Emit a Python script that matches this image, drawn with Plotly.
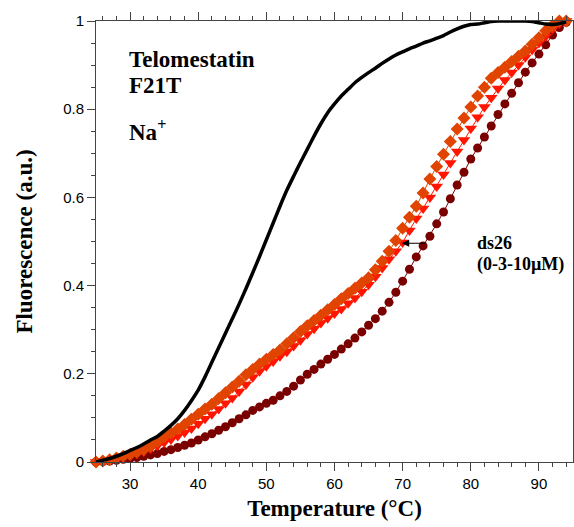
import plotly.graph_objects as go

temps = list(range(25, 95))

black_f21t = [0.0, 0.004, 0.008, 0.013, 0.019, 0.026, 0.033, 0.041, 0.05, 0.058,
              0.07, 0.083, 0.098, 0.117, 0.139, 0.163, 0.193, 0.226, 0.259, 0.292,
              0.325, 0.358, 0.393, 0.429, 0.466, 0.504, 0.542, 0.58, 0.616, 0.648,
              0.679, 0.709, 0.739, 0.767, 0.792, 0.812, 0.83, 0.845, 0.86, 0.872,
              0.883, 0.893, 0.904, 0.914, 0.923, 0.93, 0.937, 0.943, 0.95, 0.955,
              0.961, 0.967, 0.975, 0.982, 0.988, 0.992, 0.993, 0.996, 0.999, 1.0,
              1.0, 1.0, 1.0, 1.0, 0.999, 0.996, 0.993, 0.992, 0.994, 0.998]

ds26_10uM = [0.0, 0.001, 0.002, 0.004, 0.006, 0.008, 0.01, 0.013, 0.016, 0.019,
             0.024, 0.028, 0.033, 0.038, 0.043, 0.05, 0.057, 0.064, 0.072, 0.08,
             0.089, 0.098, 0.107, 0.117, 0.125, 0.133, 0.14, 0.15, 0.16, 0.172,
             0.186, 0.199, 0.21, 0.222, 0.233, 0.244, 0.256, 0.268, 0.281, 0.295,
             0.31, 0.325, 0.342, 0.362, 0.385, 0.41, 0.437, 0.465, 0.49, 0.512,
             0.54, 0.567, 0.597, 0.628, 0.657, 0.687, 0.712, 0.737, 0.762, 0.788,
             0.812, 0.836, 0.86, 0.884, 0.905, 0.925, 0.946, 0.968, 0.985, 0.997]

ds26_3uM = [0.0, 0.002, 0.005, 0.008, 0.012, 0.015, 0.019, 0.024, 0.03, 0.037,
            0.044, 0.051, 0.059, 0.067, 0.076, 0.087, 0.098, 0.108, 0.12, 0.133,
            0.145, 0.16, 0.176, 0.192, 0.206, 0.217, 0.228, 0.24, 0.25, 0.263,
            0.276, 0.29, 0.302, 0.315, 0.326, 0.337, 0.347, 0.36, 0.372, 0.386,
            0.402, 0.42, 0.44, 0.46, 0.478, 0.498, 0.525, 0.552, 0.575, 0.6,
            0.625, 0.652, 0.678, 0.704, 0.73, 0.756, 0.782, 0.805, 0.826, 0.847,
            0.866, 0.883, 0.9, 0.918, 0.935, 0.95, 0.965, 0.982, 0.995, 1.0]

ds26_0uM = [0.0, 0.002, 0.005, 0.009, 0.013, 0.017, 0.022, 0.028, 0.036, 0.046,
            0.057, 0.066, 0.075, 0.085, 0.097, 0.108, 0.12, 0.131, 0.144, 0.157,
            0.17, 0.183, 0.198, 0.21, 0.222, 0.233, 0.244, 0.254, 0.268, 0.282,
            0.296, 0.309, 0.321, 0.333, 0.345, 0.357, 0.37, 0.382, 0.394, 0.406,
            0.418, 0.436, 0.455, 0.478, 0.502, 0.53, 0.555, 0.58, 0.61, 0.642,
            0.67, 0.698, 0.727, 0.755, 0.78, 0.805, 0.83, 0.85, 0.87, 0.883,
            0.895, 0.908, 0.92, 0.932, 0.947, 0.962, 0.978, 0.99, 1.0, 1.0]

x_ticks = [30, 40, 50, 60, 70, 80, 90]
y_ticks = [0, 0.2, 0.4, 0.6, 0.8, 1]
y_tick_labels = ["0", "0.2", "0.4", "0.6", "0.8", "1"]

fig = go.Figure()

fig.add_trace(go.Scatter(
    x=temps, y=ds26_10uM, mode="lines+markers",
    line=dict(color="#7a0000", width=1),
    marker=dict(symbol="circle", size=9, color="#7a0000"),
    cliponaxis=False, showlegend=False))
fig.add_trace(go.Scatter(
    x=temps, y=ds26_3uM, mode="lines+markers",
    line=dict(color="#ff1500", width=1),
    marker=dict(symbol="triangle-down", size=11, color="#ff1500"),
    cliponaxis=False, showlegend=False))
fig.add_trace(go.Scatter(
    x=temps, y=ds26_0uM, mode="lines+markers",
    line=dict(color="#e04400", width=1),
    marker=dict(symbol="diamond", size=10, color="#e04400"),
    cliponaxis=False, showlegend=False))
fig.add_trace(go.Scatter(
    x=temps, y=black_f21t, mode="lines",
    line=dict(color="black", width=3.5, shape="spline", smoothing=0.6),
    cliponaxis=False, showlegend=False))

ann_font = dict(family="Liberation Serif, Times New Roman, serif", size=23, color="black")
for txt, yv in [("<b>Telomestatin</b>", 0.913), ("<b>F21T</b>", 0.853), ("<b>Na<sup>+</sup></b>", 0.752)]:
    fig.add_annotation(x=29.5, y=yv, xref="x", yref="y", text=txt, showarrow=False,
                       xanchor="left", yanchor="middle", font=ann_font, align="left")

small_font = dict(family="Liberation Serif, Times New Roman, serif", size=18, color="black")
fig.add_annotation(x=80.6, y=0.497, xref="x", yref="y", text="<b>ds26</b>", showarrow=False,
                   xanchor="left", yanchor="middle", font=small_font)
fig.add_annotation(x=80.6, y=0.448, xref="x", yref="y", text="<b>(0-3-10µM)</b>", showarrow=False,
                   xanchor="left", yanchor="middle", font=small_font)

fig.add_annotation(x=69.9, y=0.496, ax=73.6, ay=0.496, xref="x", yref="y", axref="x", ayref="y",
                   text="", showarrow=True, arrowhead=2, arrowsize=1.2, arrowwidth=1.2,
                   arrowcolor="black")

tick_font = dict(family="Liberation Sans, Arial, sans-serif", size=15, color="black")
title_font = dict(family="Liberation Serif, Times New Roman, serif", size=23, color="black")

fig.update_xaxes(
    range=[25, 95], tickvals=x_ticks, ticks="outside", ticklen=8, tickwidth=1,
    tickcolor="#444", showline=True, linecolor="#444", linewidth=1, mirror="ticks",
    showgrid=False, zeroline=False, tickfont=tick_font, automargin=False,
    minor=dict(dtick=2, ticks="outside", ticklen=4, tickcolor="#444", showgrid=False),
    title=dict(text="<b>Temperature (°C)</b>", font=title_font, standoff=8))
fig.update_yaxes(
    range=[0, 1], tickvals=y_ticks, ticktext=y_tick_labels, ticks="outside", ticklen=8,
    tickwidth=1, tickcolor="#444", showline=True, linecolor="#444", linewidth=1,
    mirror="ticks", showgrid=False, zeroline=False, tickfont=tick_font, automargin=False,
    minor=dict(dtick=0.05, ticks="outside", ticklen=4, tickcolor="#444", showgrid=False),
    title=dict(text="<b>Fluorescence (a.u.)</b>", font=title_font, standoff=24))

fig.update_layout(
    width=574, height=527, autosize=False, plot_bgcolor="white", paper_bgcolor="white",
    margin=dict(l=96, r=1, t=21, b=65, autoexpand=False), showlegend=False)

fig.write_html("out.html")
